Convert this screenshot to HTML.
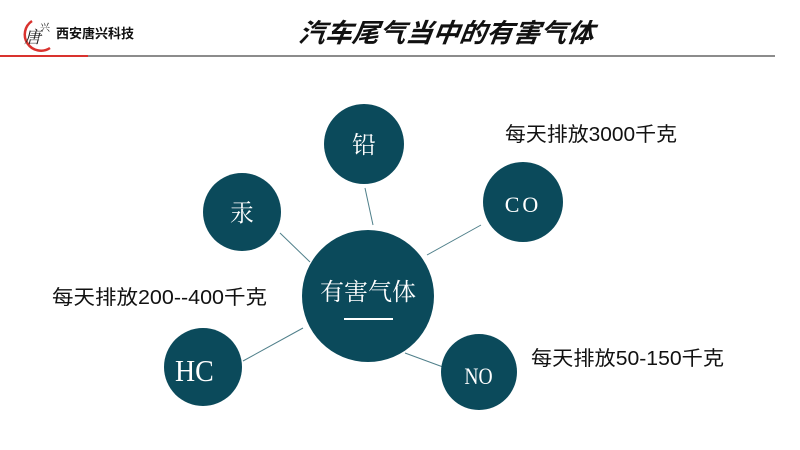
<!DOCTYPE html>
<html><head><meta charset="utf-8"><style>
html,body{margin:0;padding:0;background:#fff;}
svg{display:block;}
</style></head><body>
<svg width="800" height="450" viewBox="0 0 800 450" xmlns="http://www.w3.org/2000/svg">
<rect width="800" height="450" fill="#fff"/>
<!-- header -->
<line x1="88" y1="56" x2="775" y2="56" stroke="#8c8c8c" stroke-width="2"/>
<line x1="0" y1="56" x2="88" y2="56" stroke="#d9322e" stroke-width="2"/>
<path d="M32 21 A14 14 0 1 0 50 48" fill="none" stroke="#d9322e" stroke-width="2.5"/>
<text x="24" y="43" font-family="'Noto Serif CJK SC',serif" font-style="italic" font-size="17" fill="#222">唐</text>
<text x="40" y="31" font-family="'Noto Serif CJK SC',serif" font-size="10" fill="#222">兴</text>
<text x="56" y="38" font-family="'Liberation Sans','Noto Sans CJK SC',sans-serif" font-weight="bold" font-size="13" fill="#111">西安唐兴科技</text>
<text x="445" y="42" text-anchor="middle" font-family="'Liberation Sans','Noto Sans CJK SC',sans-serif" font-weight="bold" font-style="italic" font-size="26" fill="#111" transform="skewX(-8) translate(6,0)" textLength="295" lengthAdjust="spacingAndGlyphs">汽车尾气当中的有害气体</text>
<!-- connectors -->
<g stroke="#4f7f8a" stroke-width="1">
<line x1="365" y1="188" x2="373" y2="225"/>
<line x1="280" y1="233" x2="310" y2="262"/>
<line x1="481" y1="225" x2="427" y2="255"/>
<line x1="243" y1="361" x2="303" y2="328"/>
<line x1="405" y1="353" x2="443" y2="367"/>
</g>
<!-- circles -->
<g fill="#0b4a5b">
<circle cx="368" cy="296" r="66"/>
<circle cx="364" cy="144" r="40"/>
<circle cx="242" cy="212" r="39"/>
<circle cx="523" cy="202" r="40"/>
<circle cx="203" cy="367" r="39"/>
<circle cx="479" cy="372" r="38"/>
</g>
<g fill="#fff" font-family="'Liberation Serif','Noto Serif CJK SC',serif" text-anchor="middle">
<text x="368" y="300" font-size="24">有害气体</text>
<text x="364" y="153" font-size="24">铅</text>
<text x="242" y="221" font-size="24">汞</text>
<text x="523" y="212" font-size="22" letter-spacing="3">CO</text>
<text x="195" y="381" font-size="31" transform="scale(0.9,1) translate(21,0)">HC</text>
<text x="479" y="384" font-size="23" transform="scale(0.85,1) translate(84,0)">NO</text>
</g>
<line x1="344" y1="319" x2="393" y2="319" stroke="#fff" stroke-width="2"/>
<!-- labels -->
<g fill="#111" font-family="'Liberation Sans','Noto Sans CJK SC',sans-serif" font-size="20">
<text x="505" y="141" textLength="172" lengthAdjust="spacingAndGlyphs">每天排放3000千克</text>
<text x="52" y="304" textLength="215" lengthAdjust="spacingAndGlyphs">每天排放200--400千克</text>
<text x="531" y="365" textLength="193" lengthAdjust="spacingAndGlyphs">每天排放50-150千克</text>
</g>
</svg>
</body></html>
